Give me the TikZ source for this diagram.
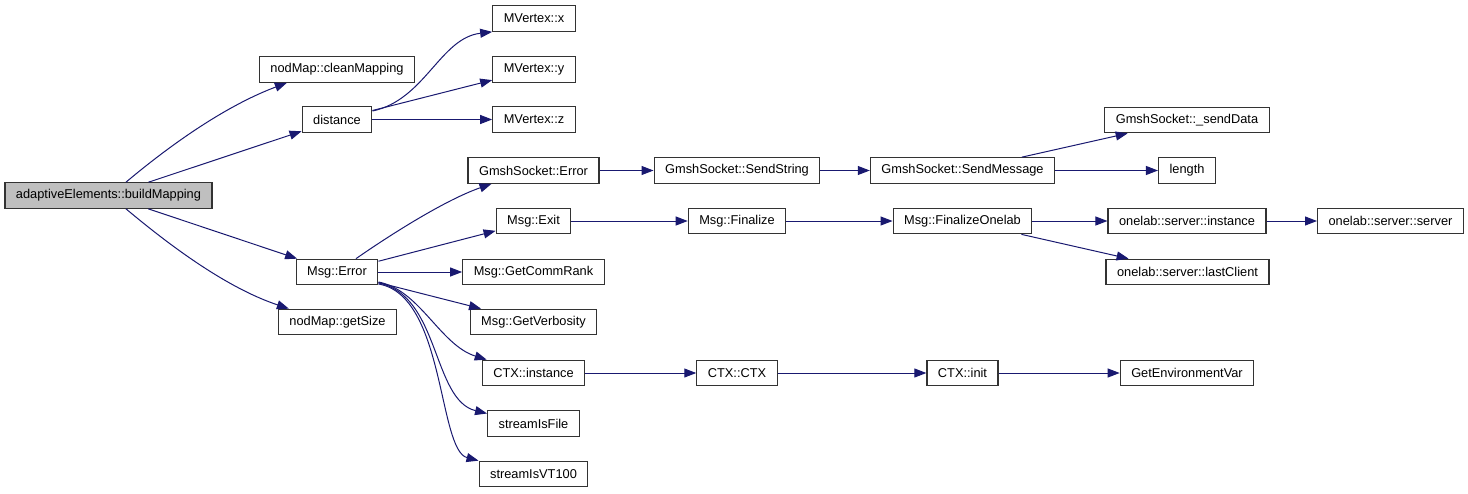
\documentclass[tikz,border=0pt]{standalone}
\usepackage{fontspec}
\setmainfont{Liberation Sans}
\usepackage{xcolor}
\usepackage{tikz}
\usetikzlibrary{shapes,arrows.meta,positioning,calc}

\definecolor{callblue}{HTML}{191970}

\begin{document}
\begin{tikzpicture}[
    x=0.5pt, y=-0.5pt,
    func/.style={rectangle, draw=black!80, line width=0.6pt, fill=white, font=\fontsize{6.4}{7.7}\selectfont,
                 inner xsep=5.5pt, inner ysep=0pt, minimum height=12.75pt},
    arrow/.style={-{Triangle[length=6pt, width=4.5pt]}, draw=callblue, line width=0.5pt}
]
    \useasboundingbox (0,0) rectangle (1468,493);

    % Functions
    \node[func, fill=gray!50] (build) at (108.5,195.5) {adaptiveElements::buildMapping};
    \node[func] (clean) at (337,69.5) {nodMap::cleanMapping};
    \node[func] (dist) at (337,119.5) {distance};
    \node[func] (err) at (337,272) {Msg::Error};
    \node[func] (size) at (337.5,322) {nodMap::getSize};
    \node[func] (vx) at (534,18.5) {MVertex::x};
    \node[func] (vy) at (534,69.5) {MVertex::y};
    \node[func] (vz) at (534,119.5) {MVertex::z};
    \node[func] (gsErr) at (533.5,170.5) {GmshSocket::Error};
    \node[func] (exit) at (533.5,221) {Msg::Exit};
    \node[func] (rank) at (533.5,272) {Msg::GetCommRank};
    \node[func] (verb) at (533.5,322) {Msg::GetVerbosity};
    \node[func] (ctxinst) at (533.5,373) {CTX::instance};
    \node[func] (sfile) at (533.5,423.5) {streamIsFile};
    \node[func] (svt) at (533.5,474) {streamIsVT100};
    \node[func] (sstr) at (737,170.5) {GmshSocket::SendString};
    \node[func] (fin) at (737,221) {Msg::Finalize};
    \node[func] (ctx) at (737,373) {CTX::CTX};
    \node[func] (smsg) at (962.5,170.5) {GmshSocket::SendMessage};
    \node[func] (finol) at (962.5,221) {Msg::FinalizeOnelab};
    \node[func] (init) at (962.5,373) {CTX::init};
    \node[func] (sdata) at (1187,120) {GmshSocket::\_sendData};
    \node[func] (len) at (1187,170.5) {length};
    \node[func] (olinst) at (1187,221) {onelab::server::instance};
    \node[func] (ollast) at (1187.5,272) {onelab::server::lastClient};
    \node[func] (env) at (1187,373) {GetEnvironmentVar};
    \node[func] (olserv) at (1390.5,221) {onelab::server::server};

    % Calls
    \draw[arrow] ($(build.north)+(17.5,0)$) .. controls (181,136) and (233,103) .. ($(clean.south west)+(28,0)$);
    \draw[arrow] (build) -- (dist);
    \draw[arrow] (build) -- (err);
    \draw[arrow] ($(build.south)+(17.5,0)$) .. controls (181,255) and (233,290) .. ($(size.north west)+(11,0)$);
    \draw[arrow] ($(dist.east)+(0,-8.5)$) .. controls (425,100) and (440,38) .. (vx.south west);
    \draw[arrow] (dist) -- (vy);
    \draw[arrow] (dist) -- (vz);
    \draw[arrow] ($(err.north)+(19,0)$) .. controls (390,235) and (445,200) .. ($(gsErr.south west)+(24,0)$);
    \draw[arrow] (err) -- (exit);
    \draw[arrow] (err) -- (rank);
    \draw[arrow] (err) -- (verb);
    \draw[arrow] ($(err.east)+(0,10)$) .. controls (420,290) and (440,345) .. ($(ctxinst.north west)+(5,0)$);
    \draw[arrow] ($(err.east)+(0,11)$) .. controls (440,295) and (432,400) .. ($(sfile.west)+(0,-10)$);
    \draw[arrow] ($(err.east)+(0,12)$) .. controls (445,295) and (438,450) .. (svt.north west);
    \draw[arrow] (gsErr) -- (sstr);
    \draw[arrow] (sstr) -- (smsg);
    \draw[arrow] (smsg) -- (sdata);
    \draw[arrow] (smsg) -- (len);
    \draw[arrow] (exit) -- (fin);
    \draw[arrow] (fin) -- (finol);
    \draw[arrow] (finol) -- (olinst);
    \draw[arrow] (finol) -- (ollast);
    \draw[arrow] (olinst) -- (olserv);
    \draw[arrow] (ctxinst) -- (ctx);
    \draw[arrow] (ctx) -- (init);
    \draw[arrow] (init) -- (env);
\end{tikzpicture}
\end{document}
